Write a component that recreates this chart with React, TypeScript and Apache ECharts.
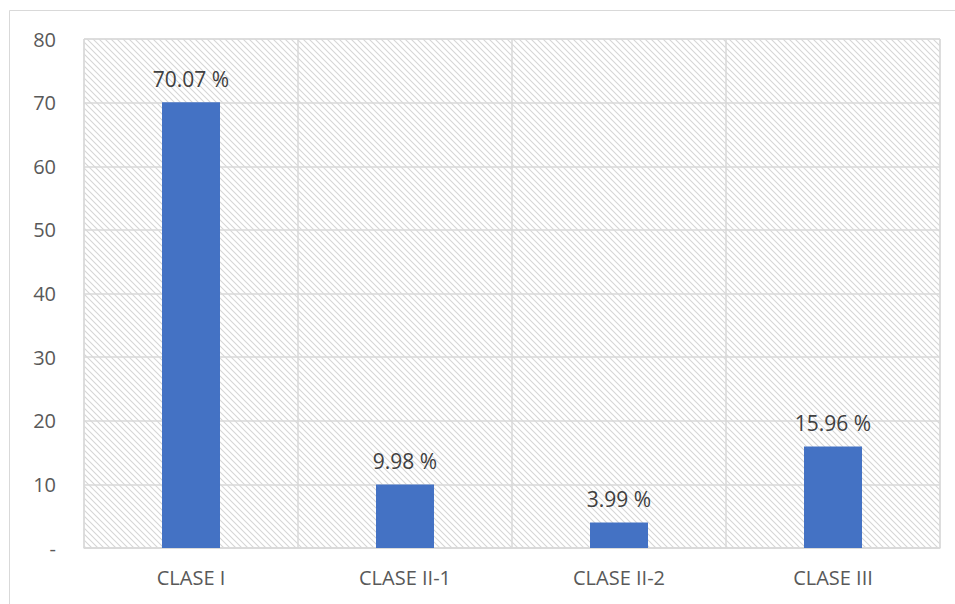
import React, { useEffect, useRef } from "react";
import * as echarts from "echarts";

const categories = ["CLASE I", "CLASE II-1", "CLASE II-2", "CLASE III"];
const values = [70.07, 9.98, 3.99, 15.96];
const yTicks = [0, 10, 20, 30, 40, 50, 60, 70, 80];

function makePattern(): string {
  const c = document.createElement("canvas");
  c.width = 6;
  c.height = 6;
  const ctx = c.getContext("2d")!;
  ctx.fillStyle = "#ffffff";
  ctx.fillRect(0, 0, 6, 6);
  ctx.strokeStyle = "#d6d6d6";
  ctx.lineWidth = 1.1;
  ctx.beginPath();
  ctx.moveTo(-1, -1);
  ctx.lineTo(7, 7);
  ctx.moveTo(-1, 5);
  ctx.lineTo(1, 7);
  ctx.moveTo(5, -1);
  ctx.lineTo(7, 1);
  ctx.stroke();
  return c.toDataURL();
}

export default function App() {
  const ref = useRef<HTMLDivElement>(null);
  useEffect(() => {
    if (!ref.current) return;
    const chart = echarts.init(ref.current, null, { renderer: "svg" });
    const font = "'Open Sans', 'Liberation Sans', sans-serif";
    chart.setOption({
      animation: false,
      backgroundColor: "#ffffff",
      graphic: [
        { type: "line", shape: { x1: 9.5, y1: 10.5, x2: 955, y2: 10.5 }, style: { stroke: "#d9d9d9", lineWidth: 1 } },
        { type: "line", shape: { x1: 9.5, y1: 10.5, x2: 9.5, y2: 604 }, style: { stroke: "#d9d9d9", lineWidth: 1 } },
      ],
      grid: {
        left: 84,
        right: 15,
        top: 39,
        bottom: 56,
        show: true,
        borderColor: "#d9d9d9",
        borderWidth: 1,
        backgroundColor: { image: makePattern(), repeat: "repeat", imageWidth: 6, imageHeight: 6 },
      },
      xAxis: {
        type: "category",
        data: categories,
        boundaryGap: true,
        axisLine: { show: true, lineStyle: { color: "#d9d9d9", width: 1.5 } },
        axisTick: { show: false },
        splitLine: { show: true, interval: 0, lineStyle: { color: "#d9d9d9", width: 1.5 } },
        axisLabel: { color: "#595959", fontSize: 20, fontFamily: font, margin: 19, interval: 0 },
      },
      yAxis: {
        type: "value",
        min: yTicks[0],
        max: yTicks[yTicks.length - 1],
        interval: 10,
        axisLine: { show: false },
        axisTick: { show: false },
        splitLine: { show: true, lineStyle: { color: "#d9d9d9", width: 1.5 } },
        axisLabel: {
          color: "#595959",
          fontSize: 20,
          fontFamily: font,
          margin: 28,
          formatter: (v: number) => (v === 0 ? "-" : String(v)),
        },
      },
      series: [
        {
          type: "bar",
          data: values,
          barWidth: 58,
          itemStyle: { color: "#4472C4" },
          label: {
            show: true,
            position: "top",
            distance: 13,
            color: "#404040",
            fontSize: 21,
            fontFamily: font,
            formatter: (p: any) => p.value.toFixed(2) + " %",
          },
        },
      ],
    });
    return () => chart.dispose();
  }, []);
  return <div ref={ref} style={{ position: "fixed", left: 0, top: 0, width: 955, height: 604 }} />;
}
